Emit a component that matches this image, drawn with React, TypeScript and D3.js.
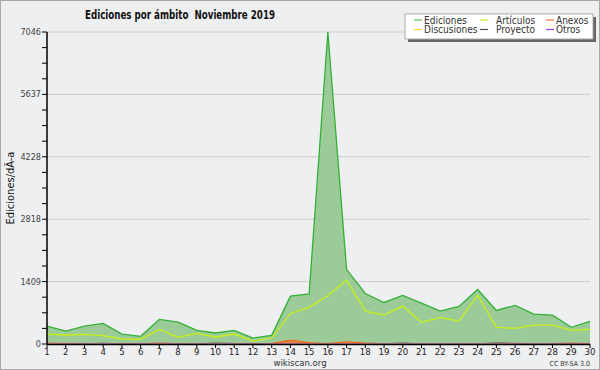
import React from 'react';
import * as d3 from 'd3';

// Daily edit counts, November 2019
const DAYS = d3.range(1, 31);
const EDICIONES = [405, 293, 405, 465, 225, 173, 555, 495, 308, 248, 308, 135, 195, 1080, 1130, 7046, 1680, 1140, 938, 1096, 923, 743, 848, 1231, 758, 871, 675, 653, 375, 510];
const ARTICULOS = [225, 203, 218, 188, 113, 105, 330, 150, 240, 158, 225, 68, 135, 690, 826, 1088, 1440, 743, 653, 855, 488, 600, 518, 1103, 375, 353, 428, 428, 308, 330];
const ANEXOS = [18, 15, 12, 10, 12, 8, 22, 8, 6, 8, 10, 6, 12, 90, 30, 12, 50, 22, 10, 8, 8, 6, 8, 10, 12, 15, 10, 12, 20, 12];
const DISCUSIONES = [10, 8, 8, 10, 8, 6, 10, 8, 8, 8, 8, 6, 8, 12, 12, 14, 14, 10, 10, 10, 8, 8, 8, 10, 10, 8, 8, 8, 8, 8];
const PROYECTO = [4, 4, 6, 16, 6, 2, 4, 2, 4, 20, 12, 2, 2, 6, 4, 4, 4, 6, 8, 20, 6, 2, 4, 6, 22, 12, 4, 4, 6, 4];
const OTROS = [2, 2, 2, 2, 2, 2, 2, 2, 2, 2, 2, 2, 2, 2, 2, 2, 2, 2, 2, 2, 2, 2, 2, 2, 2, 2, 2, 2, 2, 2];
const Y_TICKS = [0, 1409, 2818, 4228, 5637, 7046];

const LEGEND = [
  { name: 'Ediciones', color: '#5cc85c' },
  { name: 'Artículos', color: '#ccf030' },
  { name: 'Anexos', color: '#ff7030' },
  { name: 'Discusiones', color: '#ffd23a' },
  { name: 'Proyecto', color: '#555555' },
  { name: 'Otros', color: '#9a40f0' },
];

const W = 600;
const H = 370;
const FONT = '"DejaVu Sans Condensed", "DejaVu Sans", sans-serif';

const App: React.FC = () => {
  const x = d3.scaleLinear().domain([1, 30]).range([47, 590]);
  const y = d3.scaleLinear().domain([0, 7046]).range([344, 32]);
  const minor = d3.range(0, 7046, 7046 / 20);

  const area = (vals: number[]) =>
    d3.area<number>().x((_, i) => x(DAYS[i])).y0(y(0)).y1(d => y(d))(vals) || '';
  const line = (vals: number[]) =>
    d3.line<number>().x((_, i) => x(DAYS[i])).y(d => y(d))(vals) || '';

  const small = [
    { vals: ANEXOS, color: '#ff5a10' },
    { vals: PROYECTO, color: '#333333' },
    { vals: DISCUSIONES, color: '#ffcc00' },
    { vals: OTROS, color: '#9a40f0' },
  ];

  return (
    <svg width={W} height={H} style={{ position: 'absolute', left: 0, top: 0, fontFamily: FONT }}>
      <rect x={0.5} y={0.5} width={W - 1} height={H - 1} fill="#eeeff1" stroke="#a8a8a8" />

      <text x={85} y={19} textLength={190} lengthAdjust="spacingAndGlyphs" style={{ whiteSpace: 'pre' }}
        fontFamily='"DejaVu Sans", sans-serif' fontWeight="bold" fontSize={12.5} fill="#111">
        {'Ediciones por ámbito  Noviembre 2019'}
      </text>

      {/* grid */}
      {Y_TICKS.map(t => (
        <line key={t} x1={47} x2={590} y1={y(t)} y2={y(t)} stroke="#cccccc" />
      ))}

      {/* series */}
      <path d={area(EDICIONES)} fill="#9ccb9a" />
      <path d={line(EDICIONES)} fill="none" stroke="#35b035" strokeWidth={1.3} />
      <path d={line(ARTICULOS)} fill="none" stroke="#c8f014" strokeWidth={1.3} />
      {small.map((s, i) => (
        <g key={i}>
          <path d={area(s.vals)} fill={s.color} opacity={0.6} />
          <path d={line(s.vals)} fill="none" stroke={s.color} strokeWidth={1} />
        </g>
      ))}

      {/* y axis */}
      <line x1={47} x2={47} y1={32} y2={344} stroke="#000" strokeWidth={1.5} />
      {minor.map((t, i) => (
        <line key={i} x1={42} x2={47} y1={y(t)} y2={y(t)} stroke="#000" />
      ))}
      <line x1={42} x2={47} y1={y(7046)} y2={y(7046)} stroke="#000" />
      {Y_TICKS.map(t => (
        <text key={t} x={41} y={y(t) + 3} textAnchor="end" fontSize={9} fill="#444">{t}</text>
      ))}
      <text transform={`translate(14,${y(3523)}) rotate(-90)`} textAnchor="middle" fontSize={11} fill="#111">
        Ediciones/dÃ-a
      </text>

      {/* x axis */}
      <line x1={47} x2={590} y1={344.5} y2={344.5} stroke="#000" strokeWidth={1.5} />
      {DAYS.map(d => (
        <g key={d}>
          <line x1={x(d)} x2={x(d)} y1={344} y2={348} stroke="#000" />
          <text x={x(d)} y={355} textAnchor="middle" fontSize={9.5} fill="#222">{d}</text>
        </g>
      ))}
      <text x={300} y={366} textAnchor="middle" fontSize={9.5} fill="#333">wikiscan.org</text>
      <text x={590} y={366} textAnchor="end" fontSize={7} fill="#333">CC BY-SA 3.0</text>

      {/* legend */}
      <rect x={408} y={17} width={188} height={25} fill="#666" />
      <rect x={405} y={14} width={188} height={25} fill="#fff" stroke="#aaa" />
      {LEGEND.map((l, i) => {
        const col = i % 3;
        const row = Math.floor(i / 3);
        const lx = [414, 480, 546][col];
        const ly = 20 + row * 9.5;
        return (
          <g key={l.name}>
            <line x1={lx} x2={lx + 8} y1={ly} y2={ly} stroke={l.color} strokeWidth={1.2} />
            <text x={lx + (col === 1 ? 16 : 10)} y={ly + 3.5} fontSize={10} fill="#333">{l.name}</text>
          </g>
        );
      })}
    </svg>
  );
};

export default App;
